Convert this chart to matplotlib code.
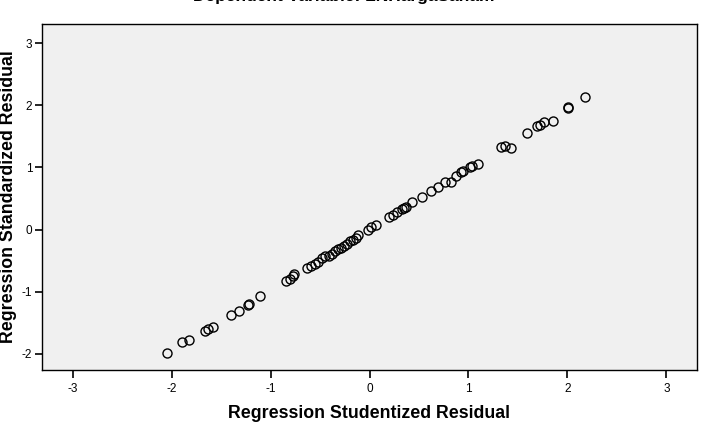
import matplotlib
matplotlib.use("Agg")
import matplotlib.pyplot as plt

plt.rcParams['font.family'] = ['Liberation Sans', 'DejaVu Sans']
plt.rcParams['axes.unicode_minus'] = False

# studentized residual (x) vs standardized residual (y)
studentized = [-2.05, -1.89, -1.82, -1.66, -1.63, -1.58, -1.40, -1.32, -1.23, -1.22,
               -1.11, -0.84, -0.80, -0.77, -0.76, -0.63, -0.59, -0.55, -0.52, -0.48,
               -0.45, -0.41, -0.38, -0.35, -0.32, -0.29, -0.26, -0.23, -0.20, -0.17,
               -0.14, -0.12, -0.02, 0.02, 0.07, 0.20, 0.24, 0.28, 0.33, 0.35,
               0.37, 0.43, 0.53, 0.62, 0.69, 0.76, 0.82, 0.87, 0.92, 0.94,
               1.02, 1.04, 1.10, 1.33, 1.37, 1.43, 1.59, 1.69, 1.72, 1.76,
               1.85, 2.01, 2.01, 2.18]
standardized = [-1.98, -1.81, -1.78, -1.64, -1.60, -1.57, -1.37, -1.31, -1.22, -1.20,
                -1.07, -0.82, -0.79, -0.74, -0.72, -0.61, -0.58, -0.55, -0.52, -0.45,
                -0.43, -0.42, -0.39, -0.35, -0.32, -0.29, -0.26, -0.23, -0.19, -0.17,
                -0.13, -0.09, 0.00, 0.04, 0.08, 0.21, 0.24, 0.28, 0.33, 0.35,
                0.36, 0.45, 0.52, 0.62, 0.69, 0.76, 0.77, 0.87, 0.92, 0.94,
                1.01, 1.03, 1.05, 1.33, 1.35, 1.31, 1.55, 1.66, 1.69, 1.73,
                1.75, 1.98, 1.96, 2.14]
x_ticks = [-3, -2, -1, 0, 1, 2, 3]
y_ticks = [-2, -1, 0, 1, 2, 3]

fig = plt.figure(figsize=(7.04, 4.26), dpi=100)
ax = fig.add_axes([42/704, 1 - 370/426, 655/704, 346/426])
ax.set_facecolor('#f0f0f0')

ax.plot(studentized, standardized, 'o', markersize=6.5, markerfacecolor='none',
        markeredgecolor='black', markeredgewidth=1.0)

ax.set_xlim(-3.31, 3.31)
ax.set_ylim(-2.26, 3.31)
ax.set_xticks(x_ticks)
ax.set_yticks(y_ticks)
ax.tick_params(axis='x', direction='out', length=6, width=1.2, labelsize=8.5, pad=3)
ax.tick_params(axis='y', direction='out', length=5, width=1.2, labelsize=8.5, pad=2)
for s in ax.spines.values():
    s.set_linewidth(1.0)

ax.set_xlabel('Regression Studentized Residual', fontsize=12.8, fontweight='bold')
ax.set_ylabel('Regression Standardized Residual', fontsize=12.8, fontweight='bold')
ax.xaxis.set_label_coords(0.5, (370 - 405) / 346)
ax.yaxis.set_label_coords((17 - 42) / 655, 0.5)

fig.text(344/704, 1 - 1.5/426, 'Dependent Variable: LNHargaSaham', ha='center', va='baseline',
         fontsize=12.5, fontweight='bold')

fig.savefig('out.png', dpi=100)
